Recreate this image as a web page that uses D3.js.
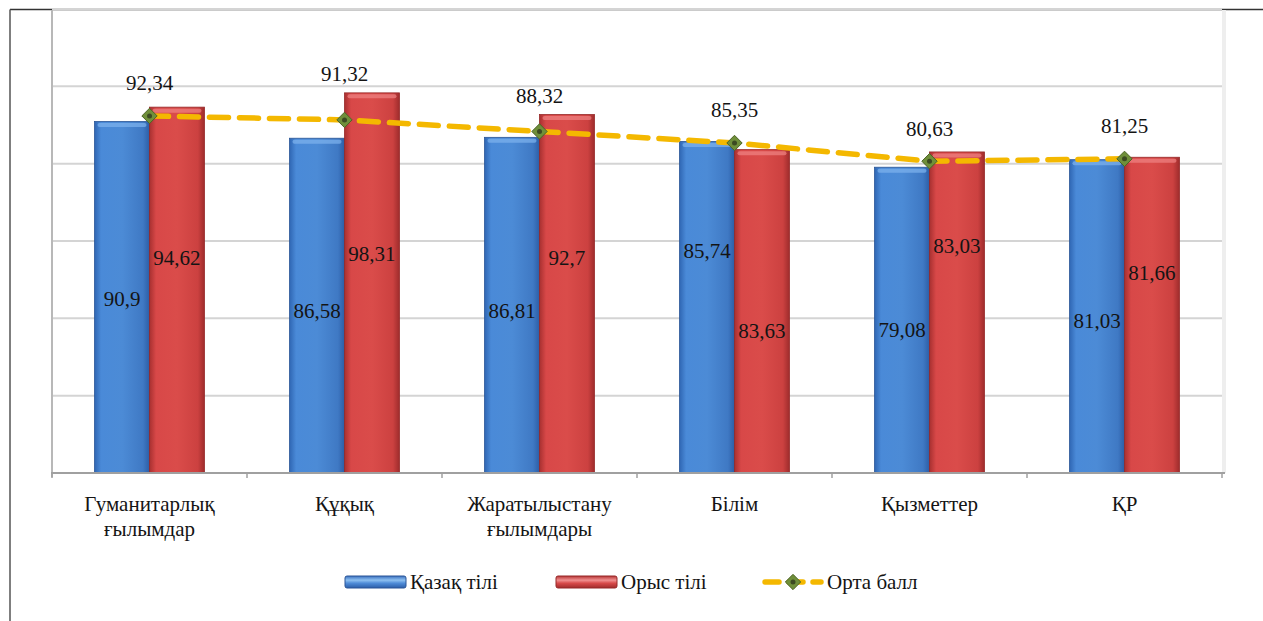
<!DOCTYPE html>
<html>
<head>
<meta charset="utf-8">
<script src="https://cdn.jsdelivr.net/npm/d3@7"></script>
</head>
<body style="margin:0">
<svg id="chart" width="1263" height="621"></svg>
<script>
// ---- data ----
const categories = ["Гуманитарлық ғылымдар", "Құқық", "Жаратылыстану ғылымдары", "Білім", "Қызметтер", "ҚР"];
const seriesNames = ["Қазақ тілі", "Орыс тілі", "Орта балл"];
const kazakh  = [90.9, 86.58, 86.81, 85.74, 79.08, 81.03];
const russian = [94.62, 98.31, 92.7, 83.63, 83.03, 81.66];
const average = [92.34, 91.32, 88.32, 85.35, 80.63, 81.25];
const yTicks = [0, 20, 40, 60, 80, 100, 120];
// label anchors (layout, in value units) for the in-bar labels
const kazLabelAt = [45.2, 41.9, 41.9, 57.4, 37.2, 39.5];
const rusLabelAt = [55.8, 56.8, 55.6, 36.7, 58.9, 51.7];

const svg = d3.select("#chart");
const fmt = v => String(v).replace(".", ",");
const fontParts = ["Liberation", "Serif"];
const FONT = `'${fontParts.join(" ")}'`;
const FS = 21;

function label(parent, x, y, str, anchor, dy) {
  return parent.append("text").attr("x", x).attr("y", y).attr("dy", dy || 0)
    .attr("text-anchor", anchor || "middle").attr("font-family", FONT)
    .attr("font-size", FS).attr("fill", "#141414").text(str);
}

const plot = { left: 52, right: 1222, top: 9, bottom: 473 };

const y = d3.scaleLinear().domain([0, 120]).range([plot.bottom, plot.top]);
const x0 = d3.scaleBand().domain(categories).range([plot.left, plot.right])
  .paddingInner(0.436).paddingOuter(0.218);
const x1 = d3.scaleBand().domain(["kaz", "rus"]).range([0, x0.bandwidth()]);
const xc = c => x0(c) + x0.bandwidth() / 2;

// ---- gradients ----
const defs = svg.append("defs");
function grad(id, stops) {
  const g = defs.append("linearGradient").attr("id", id).attr("x1", "0%").attr("x2", "100%").attr("y1", "0%").attr("y2", "0%");
  stops.forEach(s => g.append("stop").attr("offset", s[0]).attr("stop-color", s[1]));
}
grad("gBlue", [["0%", "#2f66b3"], ["12%", "#4a8ad8"], ["50%", "#4c8bd6"], ["88%", "#3f79c4"], ["100%", "#2d5ea6"]]);
grad("gRed",  [["0%", "#a83030"], ["12%", "#d84848"], ["50%", "#da4c4a"], ["88%", "#cc4140"], ["100%", "#9e2c2c"]]);
function vgrad(id, stops) {
  const g = defs.append("linearGradient").attr("id", id).attr("x1", "0%").attr("x2", "0%").attr("y1", "0%").attr("y2", "100%");
  stops.forEach(s => g.append("stop").attr("offset", s[0]).attr("stop-color", s[1]));
}
vgrad("lgBlue", [["0%", "#3a70c0"], ["35%", "#8ec0f0"], ["60%", "#4f8cd8"], ["100%", "#2c5ea8"]]);
vgrad("lgRed",  [["0%", "#b63636"], ["35%", "#f09090"], ["60%", "#d84a4a"], ["100%", "#a02c2c"]]);

// ---- frame ----
svg.append("line").attr("x1", 10).attr("x2", 1263).attr("y1", 9.5).attr("y2", 9.5).attr("stroke", "#333").attr("stroke-width", 1.5);
svg.append("line").attr("x1", 10).attr("x2", 10).attr("y1", 9.5).attr("y2", 621).attr("stroke", "#555").attr("stroke-width", 1.5);

// ---- gridlines ----
svg.append("g").selectAll("line").data(yTicks.filter(t => t > 0)).join("line")
  .attr("x1", plot.left).attr("x2", plot.right)
  .attr("y1", d => y(d)).attr("y2", d => y(d))
  .attr("stroke", "#d4d4d4").attr("stroke-width", 2);
svg.append("line").attr("x1", plot.right + 2).attr("x2", plot.right + 2).attr("y1", plot.top + 1).attr("y2", plot.bottom)
  .attr("stroke", "#eeeeee").attr("stroke-width", 4);
svg.append("line").attr("x1", plot.left).attr("x2", plot.left).attr("y1", plot.top + 1).attr("y2", plot.bottom + 4)
  .attr("stroke", "#b8b8b8").attr("stroke-width", 2);

// ---- bars ----
const rows = categories.map((c, i) => ({ c, kaz: kazakh[i], rus: russian[i], avg: average[i], i }));
const bars = svg.append("g");
rows.forEach(r => {
  [["kaz", r.kaz, "url(#gBlue)", "#2a5596"], ["rus", r.rus, "url(#gRed)", "#962828"]].forEach(([k, v, f, s]) => {
    const bx = x0(r.c) + x1(k);
    bars.append("rect")
      .attr("x", bx).attr("y", y(v))
      .attr("width", x1.bandwidth()).attr("height", y(0) - y(v))
      .attr("fill", f).attr("stroke", s).attr("stroke-width", 0.8);
    bars.append("rect")
      .attr("x", bx + 3).attr("y", y(v) + 1.5)
      .attr("width", x1.bandwidth() - 6).attr("height", 4)
      .attr("rx", 2)
      .attr("fill", k === "kaz" ? "#7fb4ee" : "#f08484").attr("opacity", 0.7);
  });
});

// ---- bottom axis ----
svg.append("line").attr("x1", plot.left - 1).attr("x2", plot.right + 3).attr("y1", plot.bottom).attr("y2", plot.bottom)
  .attr("stroke", "#a0a0a0").attr("stroke-width", 2);
const bounds = categories.map(c => x0(c) - x0.step() * x0.paddingInner() / 2).concat([plot.right]);
svg.append("g").selectAll("line").data(bounds).join("line")
  .attr("x1", d => d).attr("x2", d => d)
  .attr("y1", plot.bottom).attr("y2", plot.bottom + 5)
  .attr("stroke", "#a0a0a0").attr("stroke-width", 1.5);

// category labels
categories.forEach(c => {
  c.split(" ").forEach((ln, j) => label(svg, xc(c), 511 + j * 25, ln, "middle"));
});

// ---- in-bar value labels ----
rows.forEach(r => {
  label(svg, x0(r.c) + x1("kaz") + x1.bandwidth() / 2, y(kazLabelAt[r.i]), fmt(r.kaz), "middle", "0.35em");
  label(svg, x0(r.c) + x1("rus") + x1.bandwidth() / 2, y(rusLabelAt[r.i]), fmt(r.rus), "middle", "0.35em");
});

// ---- average line ----
const line = d3.line().x(d => xc(d.c)).y(d => y(d.avg));
svg.append("path").datum(rows).attr("d", line)
  .attr("fill", "none").attr("stroke", "#f4b800").attr("stroke-width", 5.5)
  .attr("stroke-dasharray", "19,11").attr("stroke-linecap", "round");
const diamond = d3.symbol().type(d3.symbolDiamond2).size(150);
svg.append("g").selectAll("path").data(rows).join("path")
  .attr("transform", d => `translate(${xc(d.c)},${y(d.avg)})`)
  .attr("d", diamond).attr("fill", "#6f8f3a").attr("stroke", "#4d6426").attr("stroke-width", 1);
svg.append("g").selectAll("circle").data(rows).join("circle")
  .attr("cx", d => xc(d.c)).attr("cy", d => y(d.avg)).attr("r", 2.5).attr("fill", "#3c4a22");

rows.forEach(d => {
  label(svg, xc(d.c), Math.min(y(d.avg) - 33, y(Math.max(d.kaz, d.rus)) - 19), fmt(d.avg), "middle", "0.35em");
});

// ---- legend ----
const ly = 582;
const items = [
  { x: 345, name: seriesNames[0], type: "bar", fill: "url(#lgBlue)", stroke: "#2a5596" },
  { x: 556, name: seriesNames[1], type: "bar", fill: "url(#lgRed)", stroke: "#962828" },
  { x: 762, name: seriesNames[2], type: "line" }
];
items.forEach(it => {
  if (it.type === "bar") {
    svg.append("rect").attr("x", it.x).attr("y", ly - 6).attr("width", 61).attr("height", 12).attr("rx", 2)
      .attr("fill", it.fill).attr("stroke", it.stroke).attr("stroke-width", 1);
  } else {
    svg.append("line").attr("x1", it.x + 3).attr("x2", it.x + 59).attr("y1", ly).attr("y2", ly)
      .attr("stroke", "#f4b800").attr("stroke-width", 5.5).attr("stroke-dasharray", "14,10").attr("stroke-linecap", "round");
    svg.append("path").attr("transform", `translate(${it.x + 31},${ly})`).attr("d", diamond)
      .attr("fill", "#6f8f3a").attr("stroke", "#4d6426");
    svg.append("circle").attr("cx", it.x + 31).attr("cy", ly).attr("r", 2.5).attr("fill", "#3c4a22");
  }
  label(svg, it.x + 65, ly, it.name, "start", "0.35em");
});
</script>
</body>
</html>
